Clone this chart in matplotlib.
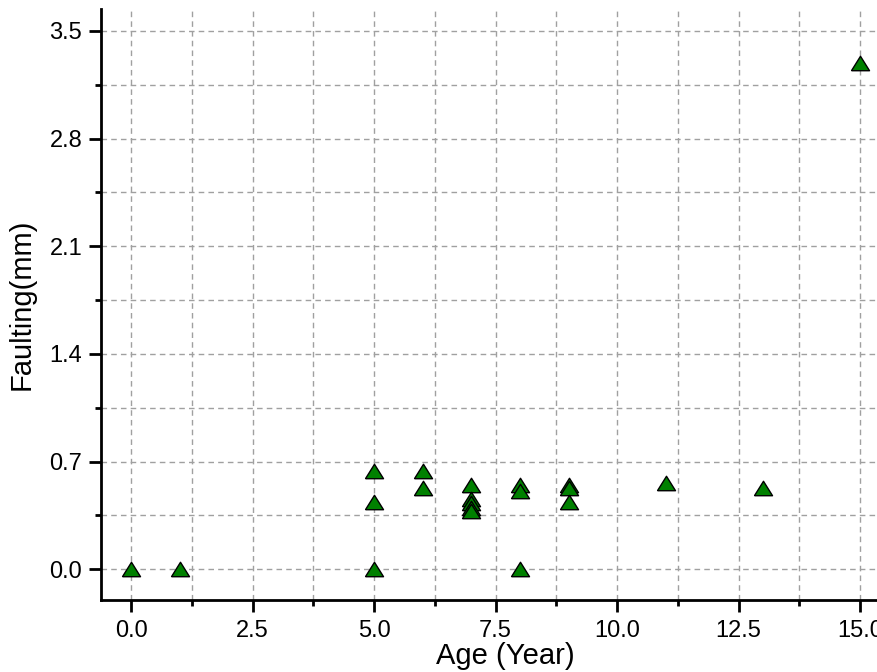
import matplotlib.pyplot as plt
from matplotlib.ticker import MultipleLocator

plt.rcParams['font.family'] = ['Liberation Sans', 'DejaVu Sans']

# Age (year) and measured faulting (mm)
age = [0, 1, 5, 5, 5, 6, 6, 7, 7, 7, 7, 7, 8, 8, 8, 9, 9, 9, 11, 13, 15]
faulting = [0.0, 0.0, 0.64, 0.44, 0.0, 0.64, 0.53, 0.55, 0.46, 0.43, 0.40, 0.38,
            0.55, 0.51, 0.0, 0.55, 0.53, 0.44, 0.56, 0.53, 3.29]

# slightly flattened triangle like the original software uses
tri = [(-1, -0.8), (1, -0.8), (0, 0.8), (-1, -0.8)]

fig = plt.figure(figsize=(8.78, 6.72), dpi=100)
ax = fig.add_axes([0.115, 0.107, 0.92, 0.879])

ax.plot(age, faulting, linestyle='none', marker=tri, markersize=13,
        markerfacecolor='#008000', markeredgecolor='black', markeredgewidth=1.0,
        zorder=3, clip_on=False)

ax.set_xlim(-0.62, 16.0)
ax.set_ylim(-0.2, 3.64)
ax.xaxis.set_major_locator(MultipleLocator(2.5))
ax.xaxis.set_minor_locator(MultipleLocator(1.25))
ax.yaxis.set_major_locator(MultipleLocator(0.7))
ax.yaxis.set_minor_locator(MultipleLocator(0.35))

ax.grid(which='both', color='#a0a0a0', linestyle=(0, (4, 3)), linewidth=1.0)
ax.set_axisbelow(True)

for s in ['top', 'right']:
    ax.spines[s].set_visible(False)
for s in ['left', 'bottom']:
    ax.spines[s].set_linewidth(2)

ax.tick_params(which='major', direction='out', length=8.5, width=2, labelsize=17)
ax.tick_params(axis='x', which='major', pad=6)
ax.tick_params(axis='y', which='major', pad=5)
ax.tick_params(which='minor', direction='out', length=4.5, width=2)

ax.set_xlabel('Age (Year)', fontsize=21, labelpad=0)
ax.set_ylabel('Faulting(mm)', fontsize=21, labelpad=10)

fig.savefig('out.png', dpi=100)
